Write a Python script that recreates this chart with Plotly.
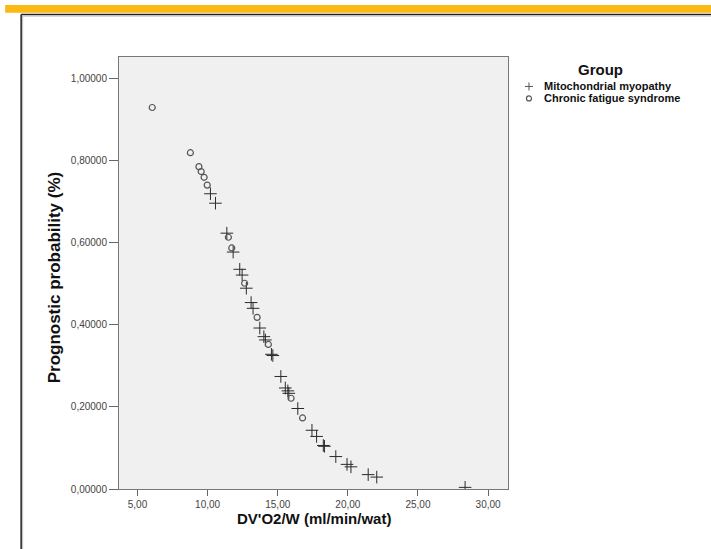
import plotly.graph_objects as go

# ---- data ----
mm_x = [10.20, 10.56, 11.37, 11.82, 12.29, 12.46, 12.76, 13.10, 13.24, 13.72, 14.01, 14.12,
        14.55, 14.65, 15.22, 15.54, 15.72, 15.79, 16.43, 17.44, 17.77, 18.25, 18.33,
        19.14, 19.94, 20.22, 21.45, 22.06, 28.36]
mm_y = [0.719, 0.696, 0.623, 0.577, 0.535, 0.521, 0.489, 0.454, 0.440, 0.392, 0.371, 0.363,
        0.328, 0.325, 0.274, 0.246, 0.239, 0.233, 0.196, 0.143, 0.128, 0.106, 0.104,
        0.079, 0.060, 0.054, 0.035, 0.029, 0.004]
cfs_x = [6.05, 8.77, 9.38, 9.54, 9.75, 9.97, 11.48, 11.72, 12.64, 13.53, 14.33, 15.95, 16.77]
cfs_y = [0.929, 0.819, 0.785, 0.773, 0.759, 0.740, 0.613, 0.587, 0.501, 0.418, 0.352, 0.221, 0.173]

x_ticks = [5, 10, 15, 20, 25, 30]
x_tick_text = ["5,00", "10,00", "15,00", "20,00", "25,00", "30,00"]
y_ticks = [0, 0.2, 0.4, 0.6, 0.8, 1.0]
y_tick_text = ["0,00000", "0,20000", "0,40000", "0,60000", "0,80000", "1,00000"]

series_names = ["Mitochondrial myopathy", "Chronic fatigue syndrome"]
legend_title = "Group"
x_title = "DV'O2/W (ml/min/wat)"
y_title = "Prognostic probability (%)"

# ---- layout geometry (pixels) ----
W, H = 711, 549
L, R, T, B = 118.5, 508, 57, 489.5
FONT = "Liberation Sans, Arial, sans-serif"


def px(x):
    return (x - L) / (R - L)


def py(y):
    return (B - y) / (B - T)


fig = go.Figure()
fig.add_trace(go.Scatter(
    x=mm_x, y=mm_y, mode="markers", name=series_names[0],
    marker=dict(symbol="cross-thin-open", size=9, color="#2a2a2a",
                line=dict(width=1, color="#2a2a2a")),
    showlegend=False))
fig.add_trace(go.Scatter(
    x=cfs_x, y=cfs_y, mode="markers", name=series_names[1],
    marker=dict(symbol="circle-open", size=6, color="#555555",
                line=dict(width=1.2, color="#555555")),
    showlegend=False))

shapes = [
    # orange band at top
    dict(type="rect", xref="paper", yref="paper", x0=px(4.5), x1=px(712), y0=py(12.8), y1=py(5),
         fillcolor="#FDB913", line=dict(width=0), layer="below"),
    # slide frame (dark line with light shadow)
    dict(type="line", xref="paper", yref="paper", x0=px(20.5), x1=px(712), y0=py(14.5), y1=py(14.5),
         line=dict(color="#222222", width=1.5)),
    dict(type="line", xref="paper", yref="paper", x0=px(20.5), x1=px(20.5), y0=py(14.5), y1=py(550),
         line=dict(color="#222222", width=1.5)),
    dict(type="line", xref="paper", yref="paper", x0=px(22), x1=px(712), y0=py(16), y1=py(16),
         line=dict(color="#bbbbbb", width=1)),
    dict(type="line", xref="paper", yref="paper", x0=px(22), x1=px(22), y0=py(16), y1=py(550),
         line=dict(color="#bbbbbb", width=1)),
    # legend glyphs
    dict(type="line", xref="paper", yref="paper", x0=px(525), x1=px(533), y0=py(86.5), y1=py(86.5),
         line=dict(color="#555555", width=1)),
    dict(type="line", xref="paper", yref="paper", x0=px(529), x1=px(529), y0=py(82.5), y1=py(90.5),
         line=dict(color="#555555", width=1)),
    dict(type="circle", xref="paper", yref="paper", x0=px(526.5), x1=px(531.5), y0=py(96), y1=py(101),
         line=dict(color="#555555", width=1.2)),
]

annotations = [
    dict(text="<b>" + legend_title + "</b>", x=px(601), y=py(70), xref="paper", yref="paper",
         showarrow=False, xanchor="center", yanchor="middle",
         font=dict(family=FONT, size=15, color="#111111")),
    dict(text="<b>" + series_names[0] + "</b>", x=px(542), y=py(86.5), xref="paper", yref="paper",
         showarrow=False, xanchor="left", yanchor="middle",
         font=dict(family=FONT, size=11, color="#111111")),
    dict(text="<b>" + series_names[1] + "</b>", x=px(542), y=py(98.5), xref="paper", yref="paper",
         showarrow=False, xanchor="left", yanchor="middle",
         font=dict(family=FONT, size=11, color="#111111")),
    # x-axis title
    dict(text="<b>" + x_title + "</b>", x=0.5, y=py(519), xref="paper", yref="paper",
         showarrow=False, xanchor="center", yanchor="middle",
         font=dict(family=FONT, size=15, color="#111111")),
    # y-axis title
    dict(text="<b>" + y_title + "</b>", x=px(54), y=py(278), xref="paper", yref="paper",
         showarrow=False, xanchor="center", yanchor="middle", textangle=-90,
         font=dict(family=FONT, size=17, color="#111111")),
]

fig.update_layout(
    width=W, height=H,
    margin=dict(l=L, r=W - R, t=T, b=H - B, pad=0),
    paper_bgcolor="white", plot_bgcolor="#f0f0f0",
    font=dict(family=FONT, color="#444444"),
    showlegend=False,
    shapes=shapes, annotations=annotations,
    xaxis=dict(range=[3.68, 31.42], tickvals=x_ticks, ticktext=x_tick_text,
               ticks="outside", ticklen=6, tickcolor="#666666", tickwidth=1,
               showline=True, linecolor="#777777", linewidth=1, mirror=True,
               showgrid=False, zeroline=False,
               tickfont=dict(family=FONT, size=10, color="#444444")),
    yaxis=dict(range=[0, 1.052], tickvals=y_ticks, ticktext=y_tick_text,
               ticks="outside", ticklen=9, tickcolor="#666666", tickwidth=1,
               showline=True, linecolor="#777777", linewidth=1, mirror=True,
               showgrid=False, zeroline=False,
               tickfont=dict(family=FONT, size=10, color="#444444")),
)

fig.write_html("out.html", config={"displayModeBar": False},
               post_script="document.body.style.margin='0';")
